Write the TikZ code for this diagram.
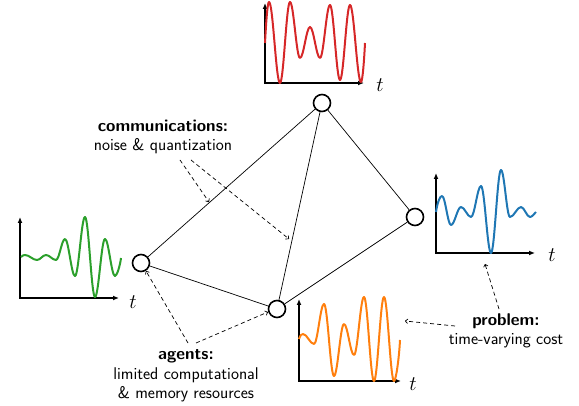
\documentclass[tikz,border=0pt]{standalone}
\usetikzlibrary{arrows.meta}
\definecolor{tred}{HTML}{D62728}
\definecolor{tgreen}{HTML}{2CA02C}
\definecolor{tblue}{HTML}{1F77B4}
\definecolor{torange}{HTML}{FF7F0E}
\begin{document}
\begin{tikzpicture}[x=1pt,y=-1pt,
  agent/.style={circle,draw,line width=1.6pt,minimum size=17pt,inner sep=0pt,fill=white},
  edge/.style={line width=0.7pt},
  note/.style={line width=0.7pt,dash pattern=on 4pt off 3pt,-{To[length=3pt,width=5pt]}},
  axis/.style={line width=1.6pt,{Latex[length=6pt,width=5pt]}-{Latex[length=6pt,width=5pt]}},
  sig/.style={line width=2pt,line join=round},
  lbl/.style={align=center,font=\sffamily\fontsize{17}{19.5}\selectfont,inner sep=0pt},
  tlbl/.style={font=\fontsize{22}{22}\selectfont,inner sep=0pt}]
\useasboundingbox (0,0) rectangle (579,406);

% red plot (top)
\draw[axis] (265,3) -- (265,83) -- (364,83);
\node[tlbl] (tr) at (380,85) {$t$};
\draw[sig,tred] (265,43) .. controls +(1.2,-22) and +(-1.5,0) .. (269,2)
  .. controls +(4,0) and +(-4,0) .. (280,83)
  .. controls +(3.6,0) and +(-3.6,0) .. (290,2)
  .. controls +(3.6,0) and +(-3.6,0) .. (300,58)
  .. controls +(3.6,0) and +(-3.6,0) .. (310,27)
  .. controls +(3.6,0) and +(-3.6,0) .. (320,58)
  .. controls +(3.6,0) and +(-3.6,0) .. (330,5)
  .. controls +(3.6,0) and +(-3.6,0) .. (340,80)
  .. controls +(3.6,0) and +(-3.6,0) .. (350,5)
  .. controls +(4,0) and +(-4,0) .. (361,82)
  .. controls +(1.5,0) and +(-0.9,18) .. (365,43);

% green plot (left)
\draw[axis] (20,217) -- (20,298) -- (119,298);
\node[tlbl] (tg) at (133,302) {$t$};
\draw[sig,tgreen] (21,257) .. controls +(1.5,-1.5) and +(-1.5,0) .. (25,255)
  .. controls +(4.3,0) and +(-4.3,0) .. (37,260)
  .. controls +(3.3,0) and +(-3.3,0) .. (46,255)
  .. controls +(3.6,0) and +(-3.6,0) .. (56,260)
  .. controls +(3.3,0) and +(-3.3,0) .. (65,239)
  .. controls +(3.6,0) and +(-3.6,0) .. (75,276)
  .. controls +(3.6,0) and +(-3.6,0) .. (85,217)
  .. controls +(3.6,0) and +(-3.6,0) .. (95,297)
  .. controls +(3.6,0) and +(-3.6,0) .. (105,239)
  .. controls +(3.6,0) and +(-3.6,0) .. (115,276)
  .. controls +(2,0) and +(-0.8,7) .. (121,258);

% blue plot (right)
\draw[axis] (436,173) -- (436,253) -- (535,253);
\node[tlbl] (tb) at (552,255) {$t$};
\draw[sig,tblue] (436,212) .. controls +(1.5,-10) and +(-2,0) .. (442,196)
  .. controls +(3.3,0) and +(-3.3,0) .. (451,225)
  .. controls +(3.6,0) and +(-3.6,0) .. (461,207)
  .. controls +(3.6,0) and +(-3.6,0) .. (471,217)
  .. controls +(3.6,0) and +(-3.6,0) .. (481,186)
  .. controls +(3.6,0) and +(-3.6,0) .. (491,253)
  .. controls +(3.6,0) and +(-3.6,0) .. (501,170)
  .. controls +(3.3,0) and +(-3.3,0) .. (510,217)
  .. controls +(4,0) and +(-4,0) .. (521,207)
  .. controls +(3.3,0) and +(-3.3,0) .. (530,217)
  .. controls +(2,0) and +(-2,2) .. (536,212);

% orange plot (bottom)
\draw[axis] (299,299) -- (299,381) -- (401,381);
\node[tlbl] (to) at (413,384) {$t$};
\draw[sig,torange] (299,339) .. controls +(1.5,-4) and +(-1.5,0) .. (303,334)
  .. controls +(4,0) and +(-4,0) .. (314,344)
  .. controls +(3.6,0) and +(-3.6,0) .. (324,304)
  .. controls +(3.6,0) and +(-3.6,0) .. (334,376)
  .. controls +(3.6,0) and +(-3.6,0) .. (344,324)
  .. controls +(3.6,0) and +(-3.6,0) .. (354,355)
  .. controls +(3.6,0) and +(-3.6,0) .. (364,297)
  .. controls +(3.6,0) and +(-3.6,0) .. (374,381)
  .. controls +(3.6,0) and +(-3.6,0) .. (384,297)
  .. controls +(3.6,0) and +(-3.6,0) .. (394,381)
  .. controls +(2,0) and +(-0.8,17) .. (400,340);

% graph
\node[agent] (top) at (322,103) {};
\node[agent] (left) at (141,263) {};
\node[agent] (bot) at (277,309) {};
\node[agent] (right) at (415,217) {};
\draw[edge] (top) -- (left);
\draw[edge] (top) -- (bot);
\draw[edge] (top) -- (right);
\draw[edge] (left) -- (bot);
\draw[edge] (bot) -- (right);

% labels
\node[lbl] (comms) at (163,137) {\textbf{communications:}\\noise \& quantization};
\node[lbl] (agents) at (186,376) {\textbf{agents:}\\limited computational\\\& memory resources};
\node[lbl] (problem) at (506,331) {\textbf{problem:}\\time-varying cost};

% annotation arrows
\coordinate (c1) at (180,160); \coordinate (e1) at (209,202);
\coordinate (c2) at (191,160); \coordinate (e2) at (289,239);
\coordinate (a1) at (188,343); \coordinate (f1) at (146,271);
\coordinate (a2) at (196,343); \coordinate (f2) at (268,312);
\coordinate (p1) at (499,309); \coordinate (g1) at (485,264);
\coordinate (p2) at (455,326); \coordinate (g2) at (405,321);
\draw[note] (c1) -- (e1);
\draw[note] (c2) -- (e2);
\draw[note] (a1) -- (f1);
\draw[note] (a2) -- (f2);
\draw[note] (p1) -- (g1);
\draw[note] (p2) -- (g2);
\end{tikzpicture}
\end{document}
